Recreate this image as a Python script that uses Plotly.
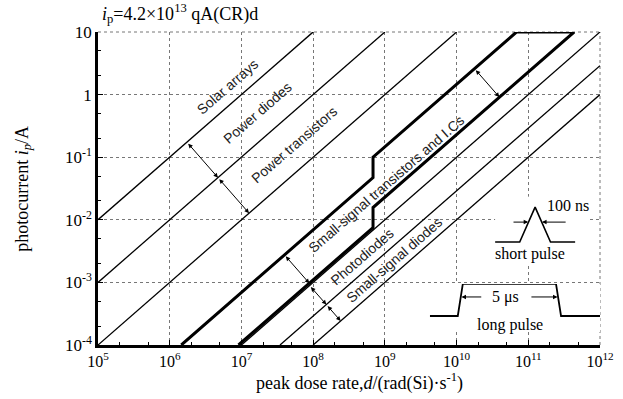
import plotly.graph_objects as go

# ---------------- data ----------------
# device-class boundary lines: photocurrent i (A) vs peak dose rate d (rad(Si)/s)
solar_d = [1e5, 1e8]
solar_i = [1e-2, 10]
pdiode_d = [1e5, 1e9]
pdiode_i = [1e-3, 10]
ptrans_d = [1e5, 1e10]
ptrans_i = [1e-4, 10]
ssti_d = [1.45e6, 6.84e8, 6.84e8, 6.84e10, 4.35e11, 6.84e8, 6.84e8, 9.1e6]
ssti_i = [1e-4, 0.0472, 0.1, 10, 10, 0.0157, 0.0075, 1e-4]
photo_d = [1e7, 1e12]
photo_i = [1e-4, 10]
ssd_hi_d = [3.45e7, 1e12]
ssd_hi_i = [1e-4, 2.9]
ssd_lo_d = [1e8, 1e12]
ssd_lo_i = [1e-4, 1]

# inset pulse shapes (normalised amplitude)
short_t = [-2.6, -1, 0, 1, 2.6]      # units of 100 ns
short_a = [0, 0, 1, 0, 0]
long_t = [-1.5, 0, 0.27, 5.27, 5.54, 7.63]   # microseconds
long_a = [0, 0, 1, 1, 0, 0]

x_tickvals = [1e5, 1e6, 1e7, 1e8, 1e9, 1e10, 1e11, 1e12]
x_ticktext = ["10<sup>5</sup>", "10<sup>6</sup>", "10<sup>7</sup>", "10<sup>8</sup>",
              "10<sup>9</sup>", "10<sup>10</sup>", "10<sup>11</sup>", "10<sup>12</sup>"]
y_tickvals = [1e-4, 1e-3, 1e-2, 1e-1, 1, 10]
y_ticktext = ["10<sup>-4</sup>", "10<sup>-3</sup>", "10<sup>-2</sup>", "10<sup>-1</sup>", "1", "10"]

# region labels: (text, log10 d, log10 i)
labels = [
    ("Solar arrays", 6.80, 0.12),
    ("Power diodes", 7.22, -0.29),
    ("Power transistors", 7.73, -0.80),
    ("Small-signal transistors and I.Cs", 9.02, -1.43),
    ("Photodiodes", 8.675, -2.59),
    ("Small-signal diodes", 9.13, -2.65),
]
# double arrows between boundaries: (log d start, log i start, log d end, log i end)
arrows = [
    (6.24, -0.76, 6.673, -1.327),
    (6.673, -1.327, 7.106, -1.894),
    (10.25, 0.414, 10.597, -0.04),
    (7.60, -2.56, 7.947, -3.014),
    (7.95, -3.05, 8.184, -3.354),
    (8.184, -3.354, 8.383, -3.615),
]

SERIF = "Liberation Serif, Times New Roman, serif"
SANS = "Liberation Sans, Arial, sans-serif"

fig = go.Figure()

def add_line(d, i, w):
    fig.add_trace(go.Scatter(x=d, y=i, mode="lines",
                             line=dict(color="black", width=w),
                             hoverinfo="skip", showlegend=False))

add_line(solar_d, solar_i, 1.5)
add_line(pdiode_d, pdiode_i, 1.3)
add_line(ptrans_d, ptrans_i, 1.3)
add_line(ssti_d, ssti_i, 3)
add_line(photo_d, photo_i, 1.3)
add_line(ssd_hi_d, ssd_hi_i, 1.3)
add_line(ssd_lo_d, ssd_lo_i, 1.3)

fig.add_trace(go.Scatter(x=short_t, y=short_a, mode="lines", xaxis="x2", yaxis="y2",
                         line=dict(color="black", width=1.6), hoverinfo="skip", showlegend=False))
fig.add_trace(go.Scatter(x=long_t, y=long_a, mode="lines", xaxis="x3", yaxis="y3",
                         line=dict(color="black", width=1.8), hoverinfo="skip", showlegend=False))

ann = []
for txt, lx, ly in labels:
    ann.append(dict(text=txt, x=lx, y=ly, xref="x", yref="y", showarrow=False,
                    textangle=-41, font=dict(family=SANS, size=14, color="#222")))
for x0, y0, x1, y1 in arrows:
    ann.append(dict(x=x1, y=y1, ax=x0, ay=y0, xref="x", yref="y", axref="x", ayref="y",
                    text="", showarrow=True, arrowhead=2, startarrowhead=2,
                    arrowside="end+start", arrowsize=0.9, startarrowsize=0.9,
                    arrowwidth=1, arrowcolor="black"))

# inset texts and arrows
ann += [
    dict(text="100 ns", x=2.11, y=1.06, xref="x2", yref="y2", showarrow=False,
         font=dict(family=SERIF, size=16, color="black")),
    dict(text="short pulse", x=-0.32, y=-0.34, xref="x2", yref="y2", showarrow=False,
         font=dict(family=SERIF, size=16, color="black")),
    dict(x=-0.45, y=0.571, ax=-1.5, ay=0.571, xref="x2", yref="y2", axref="x2", ayref="y2",
         text="", showarrow=True, arrowhead=2, arrowsize=0.9, arrowwidth=1, arrowcolor="black"),
    dict(x=0.45, y=0.571, ax=2.08, ay=0.571, xref="x2", yref="y2", axref="x2", ayref="y2",
         text="", showarrow=True, arrowhead=2, arrowsize=0.9, arrowwidth=1, arrowcolor="black"),
    dict(text="5 μs", x=2.58, y=0.594, xref="x3", yref="y3", showarrow=False,
         font=dict(family=SERIF, size=16, color="black")),
    dict(text="long pulse", x=2.8, y=-0.28, xref="x3", yref="y3", showarrow=False,
         font=dict(family=SERIF, size=16, color="black")),
    dict(x=0.2, y=0.594, ax=1.34, ay=0.594, xref="x3", yref="y3", axref="x3", ayref="y3",
         text="", showarrow=True, arrowhead=2, arrowsize=0.9, arrowwidth=1, arrowcolor="black"),
    dict(x=5.35, y=0.594, ax=3.87, ay=0.594, xref="x3", yref="y3", axref="x3", ayref="y3",
         text="", showarrow=True, arrowhead=2, arrowsize=0.9, arrowwidth=1, arrowcolor="black"),
    # chart formula (top) and axis titles
    dict(text="<i>i</i><sub>p</sub>=4.2×10<sup>13</sup> qA(CR)d", x=0.003, y=1.06,
         xref="paper", yref="paper", xanchor="left", yanchor="middle", showarrow=False,
         font=dict(family=SERIF, size=18, color="black")),
    dict(text="peak dose rate,<i>d</i>/(rad(Si)·s<sup>-1</sup>)", x=0.52, y=-0.118,
         xref="paper", yref="paper", xanchor="center", yanchor="middle", showarrow=False,
         font=dict(family=SERIF, size=18, color="black")),
    dict(text="photocurrent <i>i</i><sub><i>p</i></sub>/A", x=-0.149, y=0.5, textangle=-90,
         xref="paper", yref="paper", xanchor="center", yanchor="middle", showarrow=False,
         font=dict(family=SERIF, size=18, color="black")),
]

axis_common = dict(
    type="log", showline=True, linewidth=2.5, linecolor="black", mirror=False,
    ticks="inside", ticklen=5, tickwidth=1, tickcolor="black",
    showgrid=True, gridcolor="#777", griddash="dot", gridwidth=1,
    zeroline=False, tickmode="array", automargin=False,
    tickfont=dict(family=SERIF, size=17, color="black"),
    minor=dict(ticks="inside", ticklen=3, tickwidth=1, tickcolor="black", showgrid=False),
)

# dotted grid lines along the top and right edges of the plot area
edge_grid = [
    dict(type="line", xref="paper", yref="paper", x0=0, x1=1, y0=1, y1=1,
         line=dict(color="#777", width=1, dash="dot"), layer="below"),
    dict(type="line", xref="paper", yref="paper", x0=1, x1=1, y0=0, y1=1,
         line=dict(color="#777", width=1, dash="dot"), layer="below"),
]

fig.update_layout(
    width=623, height=399,
    margin=dict(l=98, r=23, t=32, b=54),
    paper_bgcolor="white", plot_bgcolor="white",
    showlegend=False,
    xaxis=dict(axis_common, range=[5, 12], tickvals=x_tickvals, ticktext=x_ticktext,
               tickfont=dict(family=SERIF, size=16, color="black")),
    yaxis=dict(axis_common, range=[-4, 1], tickvals=y_tickvals, ticktext=y_ticktext),
    xaxis2=dict(domain=[0.791, 0.975], range=[-2.6, 3.4], anchor="y2", visible=False),
    yaxis2=dict(domain=[0.262, 0.474], range=[-0.6, 1.3], anchor="x2", visible=False),
    xaxis3=dict(domain=[0.661, 1.0], range=[-1.5, 7.63], anchor="y3", visible=False),
    yaxis3=dict(domain=[0.0415, 0.195], range=[-0.5, 1], anchor="x3", visible=False),
    annotations=ann,
    shapes=edge_grid,
)

fig.write_html("out.html", config={"displayModeBar": False},
               post_script="document.body.style.margin='0';document.body.style.overflow='hidden';")
